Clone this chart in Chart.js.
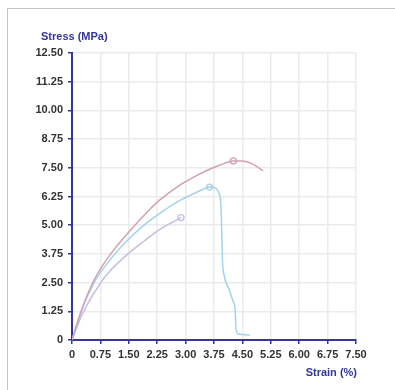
<!DOCTYPE html>
<html>
<head>
<meta charset="utf-8">
<script src="https://cdn.jsdelivr.net/npm/chart.js@4"></script>
<style>
  html, body { margin: 0; padding: 0; background: #fff; }
  #wrap { position: relative; width: 395px; height: 390px; }
  #frame { position: absolute; left: 7px; top: 8px; right: 0; bottom: 0;
           border-top: 1.5px solid #c4c4c4; border-left: 1.5px solid #c4c4c4; }
  canvas { position: absolute; left: 0; top: 0; }
</style>
</head>
<body>
<div id="wrap">
  <div id="frame"></div>
  <canvas id="stressChart" width="395" height="390"></canvas>
</div>
<script>
// tick labels
const xTicks = [0, 0.75, 1.5, 2.25, 3, 3.75, 4.5, 5.25, 6, 6.75, 7.5];
const yTicks = [0, 1.25, 2.5, 3.75, 5, 6.25, 7.5, 8.75, 10, 11.25, 12.5];

// specimen A (rosy)
const strainA = [0, 0.25, 0.55, 0.85, 1.13, 1.5, 2.0, 2.32, 2.85, 3.2, 3.56, 3.91, 4.26, 4.5, 4.75, 5.05];
const stressA = [0, 1.3, 2.5, 3.35, 3.98, 4.7, 5.6, 6.1, 6.75, 7.08, 7.38, 7.62, 7.8, 7.8, 7.68, 7.37];
const peakA = 12;

// specimen B (light blue)
const strainB = [0, 0.25, 0.57, 0.96, 1.44, 1.9, 2.32, 2.85, 3.12, 3.4, 3.63, 3.8, 3.88, 3.93, 3.95, 3.97, 4.02, 4.15, 4.25, 4.31, 4.33, 4.38, 4.70];
const stressB = [0, 1.28, 2.45, 3.4, 4.3, 5.0, 5.52, 6.08, 6.3, 6.52, 6.66, 6.6, 6.4, 5.95, 5.0, 3.6, 2.8, 2.2, 1.7, 1.3, 0.5, 0.27, 0.22];
const peakB = 10;

// specimen C (lavender)
const strainC = [0, 0.25, 0.74, 1.0, 1.5, 1.9, 2.32, 2.88];
const stressC = [0, 1.05, 2.45, 3.0, 3.78, 4.3, 4.82, 5.33];
const peakC = 7;

const toPoints = (xs, ys) => xs.map((x, i) => ({ x: x, y: ys[i] }));
const markerAt = (n, idx) => Array.from({ length: n }, (_, i) => i === idx ? 3 : 0);

const axisBlue = '#35359a';
const labelFont = { family: "'Liberation Sans', Arial, sans-serif", size: 11, weight: 'bold' };

// axis titles: y title top-left, x title bottom-right
const axisTitles = {
    id: 'axisTitles',
    afterDraw(chart) {
        const ctx = chart.ctx;
        const area = chart.chartArea;
        ctx.save();
        ctx.fillStyle = axisBlue;
        ctx.font = "bold 11px 'Liberation Sans', Arial, sans-serif";
        ctx.textBaseline = 'middle';
        ctx.textAlign = 'left';
        ctx.fillText('Stress (MPa)', 41, area.top - 16);
        ctx.textAlign = 'right';
        ctx.fillText('Strain (%)', area.right + 1, area.bottom + 33);
        ctx.restore();
    }
};

const mkSet = (xs, ys, peak, color) => ({
    data: toPoints(xs, ys),
    borderColor: color,
    borderWidth: 1.5,
    showLine: true,
    fill: false,
    cubicInterpolationMode: 'monotone',
    pointRadius: markerAt(xs.length, peak),
    pointHoverRadius: 0,
    pointBorderColor: color,
    pointBackgroundColor: 'rgba(255,255,255,0)',
    pointBorderWidth: 1.3
});

new Chart(document.getElementById('stressChart').getContext('2d'), {
    type: 'scatter',
    data: {
        datasets: [
            mkSet(strainA, stressA, peakA, '#cfa3ad'),
            mkSet(strainB, stressB, peakB, '#a3d3ec'),
            mkSet(strainC, stressC, peakC, '#c3bfe6')
        ]
    },
    options: {
        responsive: false,
        animation: false,
        layout: { padding: { top: 53, right: 39, left: 0, bottom: 0 } },
        plugins: { legend: { display: false }, tooltip: { enabled: false } },
        scales: {
            x: {
                type: 'linear', min: 0, max: 7.5,
                afterBuildTicks: s => { s.ticks = xTicks.map(v => ({ value: v })); },
                afterFit: s => { s.height = 50; },
                ticks: { color: '#333', font: labelFont, padding: 4, maxRotation: 0, autoSkip: false,
                         callback: v => v === 0 ? '0' : v.toFixed(2) },
                grid: { color: '#ebebeb', lineWidth: 1.5, tickColor: axisBlue, tickLength: 4, tickWidth: 1.5 },
                border: { color: axisBlue, width: 2 }
            },
            y: {
                type: 'linear', min: 0, max: 12.5,
                afterBuildTicks: s => { s.ticks = yTicks.map(v => ({ value: v })); },
                afterFit: s => { s.width = 72; },
                ticks: { color: '#333', font: labelFont, padding: 5, autoSkip: false,
                         callback: v => v === 0 ? '0' : v.toFixed(2) },
                grid: { color: '#ebebeb', lineWidth: 1.5, tickColor: axisBlue, tickLength: 4, tickWidth: 1.5 },
                border: { color: axisBlue, width: 2 }
            }
        }
    },
    plugins: [axisTitles]
});
</script>
</body>
</html>
